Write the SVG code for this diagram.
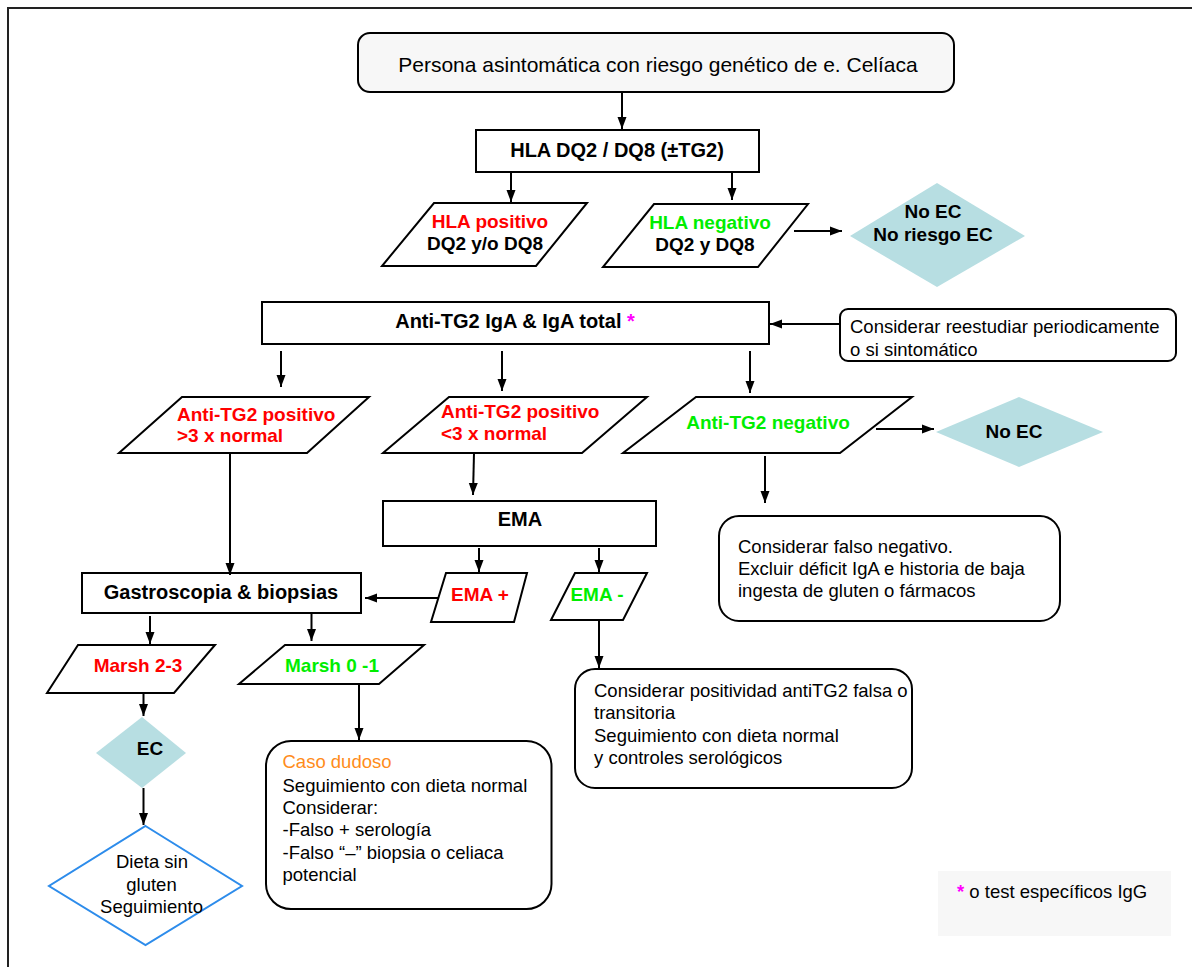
<svg xmlns="http://www.w3.org/2000/svg" width="1192" height="967" viewBox="0 0 1192 967">
<style>
  text { font-family: "Liberation Sans", Arial, sans-serif; fill: #000; }
  .b { font-weight: bold; font-size: 20px; }
  .bp { font-weight: bold; font-size: 19px; }
  .r { font-size: 18.5px; }
  .c { text-anchor: middle; }
  .red { fill: #ff0000; }
  .grn { fill: #00ee00; }
  .org { fill: #ff8c1a; }
  .mag { fill: #ff00ff; }
  .box { fill: #fff; stroke: #000; stroke-width: 2; }
  .dia { fill: #b7dee2; stroke: none; }
  .conn line { stroke: #000; stroke-width: 2; marker-end: url(#arr); }
</style>
<defs>
  <marker id="arr" viewBox="0 0 12 10" refX="12" refY="5" markerWidth="12" markerHeight="10" markerUnits="userSpaceOnUse" orient="auto">
    <path d="M0,0.5 L12,5 L0,9.5 z" fill="#000"/>
  </marker>
</defs>
<rect width="1192" height="967" fill="#fff"/>
<path d="M8,967 L8,8 L1192,8" fill="none" stroke="#222" stroke-width="2"/>

<g id="start">
  <rect x="358" y="33" width="596" height="59" rx="12" fill="#f7f7f7" stroke="#000" stroke-width="2"/>
  <text x="658" y="72" class="c" font-size="21">Persona asintomática con riesgo genético de e. Celíaca</text>
</g>
<g id="hla">
  <rect class="box" x="476" y="130" width="283" height="42"/>
  <text x="617" y="157" class="b c">HLA DQ2 / DQ8 (±TG2)</text>
</g>
<g id="hla-pos">
  <polygon class="box" points="434,203 587,203 536,266 382,266"/>
  <text x="490" y="228" class="bp c red">HLA positivo</text>
  <text x="485" y="250" class="bp c">DQ2 y/o DQ8</text>
</g>
<g id="hla-neg">
  <polygon class="box" points="654,204 808,204 758,267 603,267"/>
  <text x="710" y="229" class="bp c grn">HLA negativo</text>
  <text x="705" y="251" class="bp c">DQ2 y DQ8</text>
</g>
<g id="noec1">
  <polygon class="dia" points="937,183 1025,236 937,287 850,236"/>
  <text x="933" y="218" class="bp c">No EC</text>
  <text x="933" y="241" class="bp c">No riesgo EC</text>
</g>
<g id="antitg2">
  <rect class="box" x="262" y="302" width="507" height="42"/>
  <text x="515" y="328" class="b c">Anti-TG2 IgA &amp; IgA total <tspan class="mag">*</tspan></text>
</g>
<g id="reestudiar">
  <rect class="box" x="840" y="309" width="336" height="52" rx="8"/>
  <text x="850" y="333" class="r">Considerar reestudiar periodicamente</text>
  <text x="850" y="356" class="r">o si sintomático</text>
</g>
<g id="pos-gt3">
  <polygon class="box" points="182,397 369,397 307,453 119,453"/>
  <text x="177" y="421" class="bp red">Anti-TG2 positivo</text>
  <text x="177" y="442" class="bp red">&gt;3 x normal</text>
</g>
<g id="pos-lt3">
  <polygon class="box" points="449,397 647,397 582,453 383,453"/>
  <text x="441" y="418" class="bp red">Anti-TG2 positivo</text>
  <text x="441" y="440" class="bp red">&lt;3 x normal</text>
</g>
<g id="neg">
  <polygon class="box" points="696,397 912,397 840,453 623,453"/>
  <text x="768" y="429" class="bp c grn">Anti-TG2 negativo</text>
</g>
<g id="noec2">
  <polygon class="dia" points="936,432 1019,397 1103,432 1019,467"/>
  <text x="1014" y="438" class="bp c">No EC</text>
</g>
<g id="falso-neg">
  <rect class="box" x="719" y="516" width="341" height="105" rx="20"/>
  <text x="738" y="553" class="r">Considerar falso negativo.</text>
  <text x="738" y="575" class="r">Excluir déficit IgA e historia de baja</text>
  <text x="738" y="597" class="r">ingesta de gluten o fármacos</text>
</g>
<g id="ema">
  <rect class="box" x="383" y="501" width="273" height="45"/>
  <text x="520" y="526" class="b c">EMA</text>
</g>
<g id="gastro">
  <rect class="box" x="82" y="573" width="279" height="40"/>
  <text x="221" y="599" class="b c">Gastroscopia &amp; biopsias</text>
</g>
<g id="ema-pos">
  <polygon class="box" points="446,573 527,573 514,622 431,622"/>
  <text x="480" y="601" class="bp c red">EMA +</text>
</g>
<g id="ema-neg">
  <polygon class="box" points="575,573 647,573 623,620 551,620"/>
  <text x="597" y="601" class="bp c grn">EMA -</text>
</g>
<g id="transitoria">
  <rect class="box" x="575" y="669" width="337" height="119" rx="20"/>
  <text x="594" y="697" class="r">Considerar positividad antiTG2 falsa o</text>
  <text x="594" y="719" class="r">transitoria</text>
  <text x="594" y="742" class="r">Seguimiento con dieta normal</text>
  <text x="594" y="764" class="r">y controles serológicos</text>
</g>
<g id="marsh23">
  <polygon class="box" points="78,645 215,645 174,693 47,693"/>
  <text x="138" y="672" class="bp c red">Marsh 2-3</text>
</g>
<g id="marsh01">
  <polygon class="box" points="285,645 424,645 379,684 239,684"/>
  <text x="332" y="672" class="bp c grn">Marsh 0 -1</text>
</g>
<g id="ec">
  <polygon class="dia" points="142,717 186,753 142,788 96,753"/>
  <text x="150" y="755" class="bp c">EC</text>
</g>
<g id="dieta">
  <polygon points="145.5,826 242,886 145.5,945 49,886" fill="#fff" stroke="#2d8ceb" stroke-width="2"/>
  <text x="152" y="868" class="r c">Dieta sin</text>
  <text x="151.5" y="891" class="r c">gluten</text>
  <text x="151.5" y="913" class="r c">Seguimiento</text>
</g>
<g id="dudoso">
  <rect class="box" x="266" y="741" width="285.5" height="168" rx="25"/>
  <text x="282.5" y="768" class="r org">Caso dudoso</text>
  <text x="282.5" y="792" class="r">Seguimiento con dieta normal</text>
  <text x="282.5" y="814" class="r">Considerar:</text>
  <text x="282.5" y="836" class="r">-Falso + serología</text>
  <text x="282.5" y="859" class="r">-Falso “–” biopsia o celiaca</text>
  <text x="282.5" y="881" class="r">potencial</text>
</g>
<g id="footnote">
  <rect x="938" y="871" width="233" height="65" fill="#f7f7f7"/>
  <text x="957" y="898" class="r"><tspan class="mag" font-weight="bold">*</tspan> o test específicos IgG</text>
</g>

<g id="connectors" class="conn">
  <line x1="622" y1="92" x2="622" y2="129"/>
  <line x1="511" y1="172" x2="511" y2="202"/>
  <line x1="732" y1="172" x2="732" y2="200"/>
  <line x1="794" y1="231" x2="842" y2="231"/>
  <line x1="840" y1="324" x2="770" y2="324"/>
  <line x1="281" y1="351" x2="281" y2="387"/>
  <line x1="502" y1="351" x2="502" y2="391"/>
  <line x1="750" y1="351" x2="750" y2="393"/>
  <line x1="876" y1="429" x2="934" y2="429"/>
  <line x1="765" y1="456" x2="765" y2="503"/>
  <line x1="474" y1="453" x2="473" y2="495"/>
  <line x1="230" y1="453" x2="230" y2="575"/>
  <line x1="479" y1="548" x2="479" y2="572"/>
  <line x1="599" y1="548" x2="599" y2="572"/>
  <line x1="439" y1="598" x2="365" y2="598"/>
  <line x1="599" y1="620" x2="599" y2="668"/>
  <line x1="150" y1="616" x2="150" y2="644"/>
  <line x1="311.5" y1="613" x2="311.5" y2="641"/>
  <line x1="143.5" y1="693" x2="143.5" y2="716"/>
  <line x1="143.5" y1="788" x2="143.5" y2="825"/>
  <line x1="359" y1="684" x2="359" y2="740"/>
</g>
</svg>
